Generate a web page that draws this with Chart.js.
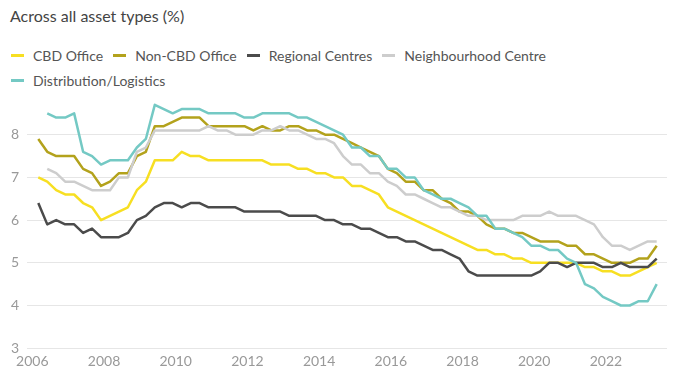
<!DOCTYPE html>
<html>
<head>
<meta charset="utf-8">
<script src="https://cdn.jsdelivr.net/npm/chart.js@4.4.1/dist/chart.umd.min.js"></script>
<style>
  body { margin: 0; background: #fff; font-family: Lato, "Open Sans", sans-serif; }
  #wrap { position: relative; width: 680px; height: 386px; }
  #title { position: absolute; left: 10px; top: 6px; font-size: 16px; color: #444; }
  #legend { position: absolute; left: 11px; top: 43px; width: 560px; font-size: 14px; color: #555; }
  .item { display: inline-flex; align-items: center; margin-right: 10px; height: 24px; }
  .swatch { width: 13px; height: 3px; margin-right: 9px; }
  canvas { position: absolute; left: 0; top: 0; }
</style>
</head>
<body>
<div id="wrap">
  <div id="title">Across all asset types (%)</div>
  <div id="legend"></div>
  <canvas id="chart" width="680" height="386"></canvas>
</div>
<script>
// quarterly, Mar 2006 .. Jun 2023
const startYear = 2006;
const yearTicks = [2006, 2008, 2010, 2012, 2014, 2016, 2018, 2020, 2022];
const valueTicks = [3, 4, 5, 6, 7, 8];

const cbdOffice = [7.0, 6.9, 6.7, 6.6, 6.6, 6.4, 6.3, 6.0, 6.1, 6.2, 6.3, 6.7, 6.9, 7.4, 7.4, 7.4, 7.6, 7.5, 7.5, 7.4,
  7.4, 7.4, 7.4, 7.4, 7.4, 7.4, 7.3, 7.3, 7.3, 7.2, 7.2, 7.1, 7.1, 7.0, 7.0, 6.8, 6.8, 6.7, 6.6, 6.3,
  6.2, 6.1, 6.0, 5.9, 5.8, 5.7, 5.6, 5.5, 5.4, 5.3, 5.3, 5.2, 5.2, 5.1, 5.1, 5.0, 5.0, 5.0, 5.0, 5.0,
  5.0, 4.9, 4.9, 4.8, 4.8, 4.7, 4.7, 4.8, 4.9, 5.0];
const nonCbdOffice = [7.9, 7.6, 7.5, 7.5, 7.5, 7.2, 7.1, 6.8, 6.9, 7.1, 7.1, 7.5, 7.6, 8.2, 8.2, 8.3, 8.4, 8.4, 8.4, 8.2,
  8.2, 8.2, 8.2, 8.2, 8.1, 8.2, 8.1, 8.1, 8.2, 8.2, 8.1, 8.1, 8.0, 8.0, 7.9, 7.8, 7.7, 7.6, 7.5, 7.2,
  7.1, 6.9, 6.9, 6.7, 6.7, 6.5, 6.4, 6.2, 6.2, 6.1, 5.9, 5.8, 5.8, 5.7, 5.7, 5.6, 5.5, 5.5, 5.5, 5.4,
  5.4, 5.2, 5.2, 5.1, 5.0, 5.0, 5.0, 5.1, 5.1, 5.4];
const regionalCentres = [6.4, 5.9, 6.0, 5.9, 5.9, 5.7, 5.8, 5.6, 5.6, 5.6, 5.7, 6.0, 6.1, 6.3, 6.4, 6.4, 6.3, 6.4, 6.4, 6.3,
  6.3, 6.3, 6.3, 6.2, 6.2, 6.2, 6.2, 6.2, 6.1, 6.1, 6.1, 6.1, 6.0, 6.0, 5.9, 5.9, 5.8, 5.8, 5.7, 5.6,
  5.6, 5.5, 5.5, 5.4, 5.3, 5.3, 5.2, 5.1, 4.8, 4.7, 4.7, 4.7, 4.7, 4.7, 4.7, 4.7, 4.8, 5.0, 5.0, 4.9,
  5.0, 5.0, 5.0, 4.9, 4.9, 5.0, 4.9, 4.9, 4.9, 5.1];
const neighbourhoodCentre = [null, 7.2, 7.1, 6.9, 6.9, 6.8, 6.7, 6.7, 6.7, 7.0, 7.0, 7.6, 7.7, 8.1, 8.1, 8.1, 8.1, 8.1, 8.1, 8.2,
  8.1, 8.1, 8.0, 8.0, 8.0, 8.1, 8.1, 8.2, 8.1, 8.1, 8.0, 7.9, 7.9, 7.8, 7.5, 7.3, 7.3, 7.1, 7.1, 6.9,
  6.8, 6.6, 6.6, 6.5, 6.4, 6.3, 6.3, 6.2, 6.1, 6.1, 6.0, 6.0, 6.0, 6.0, 6.1, 6.1, 6.1, 6.2, 6.1, 6.1,
  6.1, 6.0, 5.9, 5.6, 5.4, 5.4, 5.3, 5.4, 5.5, 5.5];
const distribution = [null, 8.5, 8.4, 8.4, 8.5, 7.6, 7.5, 7.3, 7.4, 7.4, 7.4, 7.7, 7.9, 8.7, 8.6, 8.5, 8.6, 8.6, 8.6, 8.5,
  8.5, 8.5, 8.5, 8.4, 8.4, 8.5, 8.5, 8.5, 8.5, 8.4, 8.4, 8.3, 8.2, 8.1, 8.0, 7.7, 7.7, 7.5, 7.5, 7.2,
  7.2, 7.0, 7.0, 6.7, 6.6, 6.5, 6.5, 6.4, 6.3, 6.1, 6.1, 5.8, 5.8, 5.7, 5.6, 5.4, 5.4, 5.3, 5.3, 5.1,
  5.0, 4.5, 4.4, 4.2, 4.1, 4.0, 4.0, 4.1, 4.1, 4.5];

const seriesNames = ["CBD Office", "Non-CBD Office", "Regional Centres", "Neighbourhood Centre", "Distribution/Logistics"];
const seriesData = [cbdOffice, nonCbdOffice, regionalCentres, neighbourhoodCentre, distribution];
const seriesColors = ["#f7df22", "#b3a21c", "#4b4b4b", "#cdcdcd", "#74c9c4"];

// x position of each quarter (end month of the quarter)
function toPoints(values) {
  return values.map((v, i) => ({ x: startYear + (2 + 3 * i) / 12, y: v }));
}

const legend = document.getElementById("legend");
seriesNames.forEach((name, i) => {
  const item = document.createElement("span");
  item.className = "item";
  item.innerHTML = `<span class="swatch" style="background:${seriesColors[i]}"></span>${name}`;
  legend.appendChild(item);
  if (i === 3) legend.appendChild(document.createElement("br"));
});

const ctx = document.getElementById("chart").getContext("2d");
new Chart(ctx, {
  type: "line",
  data: {
    datasets: seriesNames.map((name, i) => ({
      label: name,
      data: toPoints(seriesData[i]),
      borderColor: seriesColors[i],
      backgroundColor: seriesColors[i],
      borderWidth: 2.5,
      pointRadius: 0,
      tension: 0,
      borderJoinStyle: "round",
      fill: false,
      order: seriesNames.length - i
    }))
  },
  options: {
    responsive: false,
    animation: false,
    devicePixelRatio: 1,
    layout: { padding: { top: 92, left: 3, right: 13, bottom: 11 } },
    plugins: { legend: { display: false }, tooltip: { enabled: false } },
    scales: {
      x: {
        type: "linear",
        min: 2005.855,
        max: 2023.704,
        afterBuildTicks: scale => { scale.ticks = yearTicks.map(v => ({ value: v })); },
        grid: { display: false, drawTicks: false },
        border: { display: false },
        ticks: {
          color: "#999",
          font: { family: "Lato", size: 14 },
          padding: 5,
          maxRotation: 0,
          autoSkip: false,
          callback: v => String(v)
        }
      },
      y: {
        min: 3,
        max: 9,
        afterBuildTicks: scale => { scale.ticks = valueTicks.map(v => ({ value: v })); },
        grid: { color: "#e6e6e6", drawTicks: false, lineWidth: 1 },
        border: { display: false },
        ticks: {
          color: "#999",
          font: { family: "Lato", size: 14 },
          padding: 8,
          callback: v => String(v)
        }
      }
    }
  }
});
</script>
</body>
</html>
